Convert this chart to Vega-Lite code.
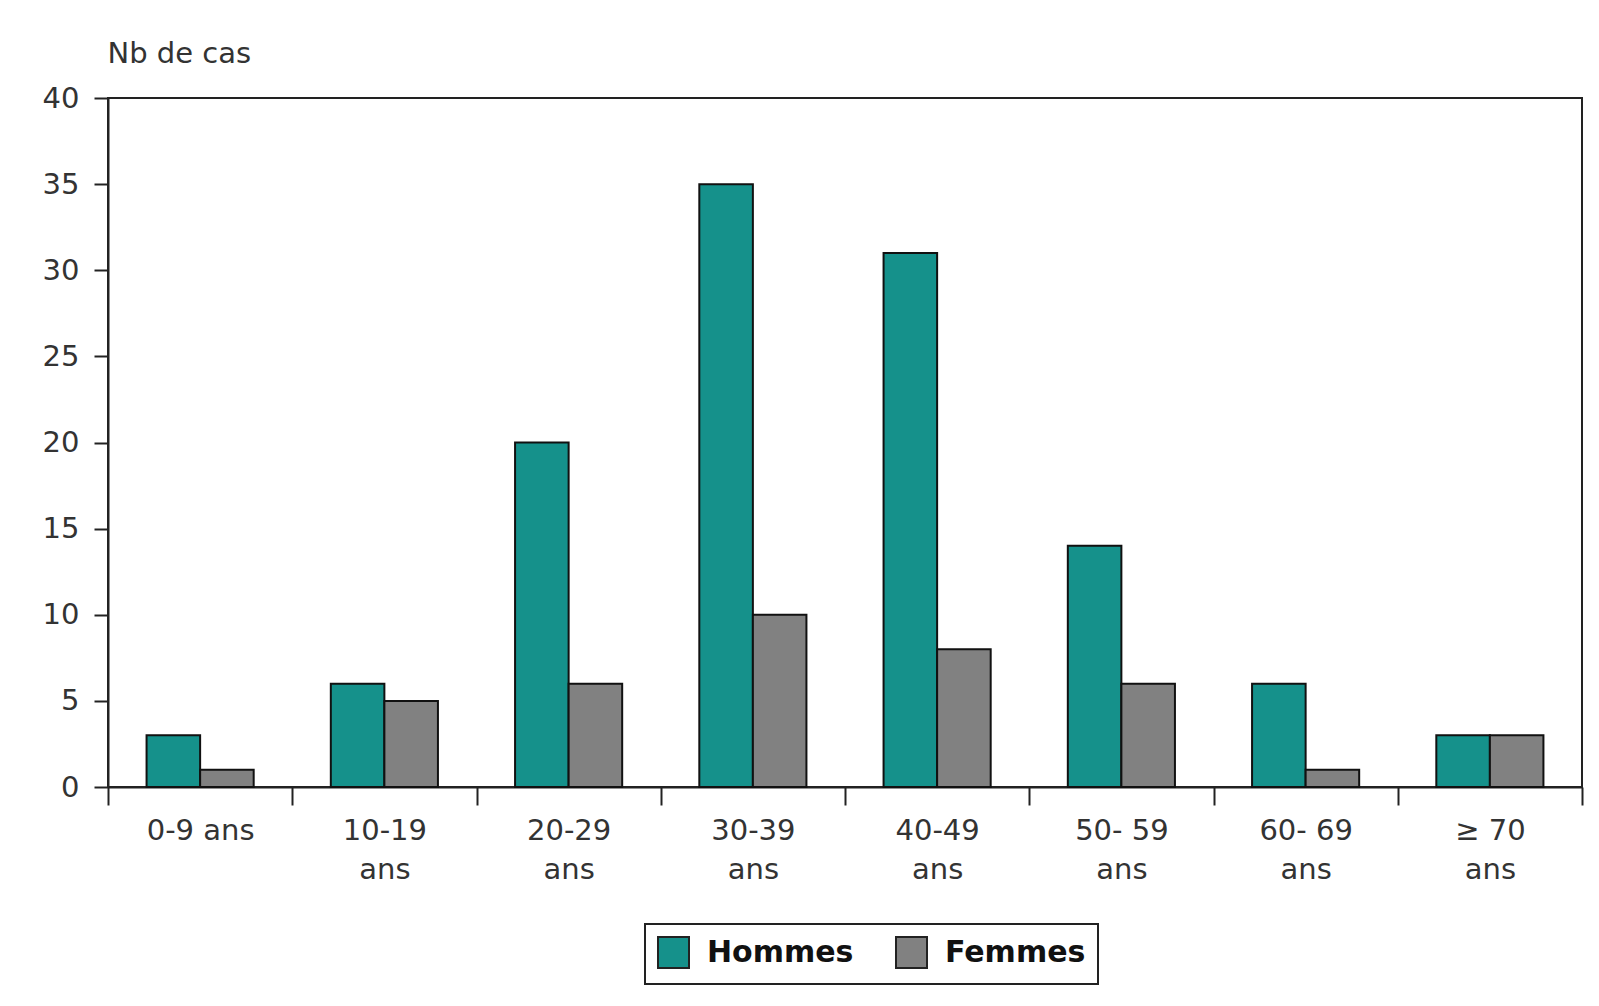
{
  "$schema": "https://vega.github.io/schema/vega-lite/v6.json",
  "width": 1474,
  "height": 689,
  "autosize": {"type": "none"},
  "padding": {"left": 108, "top": 98, "right": 17, "bottom": 219},
  "background": "white",
  "data": {
    "values": [
      {"age": "0-9 ans", "sexe": "Hommes", "cas": 3},
      {"age": "0-9 ans", "sexe": "Femmes", "cas": 1},
      {"age": "10-19 ans", "sexe": "Hommes", "cas": 6},
      {"age": "10-19 ans", "sexe": "Femmes", "cas": 5},
      {"age": "20-29 ans", "sexe": "Hommes", "cas": 20},
      {"age": "20-29 ans", "sexe": "Femmes", "cas": 6},
      {"age": "30-39 ans", "sexe": "Hommes", "cas": 35},
      {"age": "30-39 ans", "sexe": "Femmes", "cas": 10},
      {"age": "40-49 ans", "sexe": "Hommes", "cas": 31},
      {"age": "40-49 ans", "sexe": "Femmes", "cas": 8},
      {"age": "50- 59 ans", "sexe": "Hommes", "cas": 14},
      {"age": "50- 59 ans", "sexe": "Femmes", "cas": 6},
      {"age": "60- 69 ans", "sexe": "Hommes", "cas": 6},
      {"age": "60- 69 ans", "sexe": "Femmes", "cas": 1},
      {"age": "≥ 70 ans", "sexe": "Hommes", "cas": 3},
      {"age": "≥ 70 ans", "sexe": "Femmes", "cas": 3}
    ]
  },
  "mark": {"type": "bar", "stroke": "#111111", "strokeWidth": 2},
  "encoding": {
    "x": {
      "field": "age",
      "type": "nominal",
      "sort": null,
      "scale": {"paddingInner": 0, "paddingOuter": 0},
      "axis": {
        "title": null,
        "labelAngle": 0,
        "tickBand": "extent",
        "tickSize": 18,
        "tickWidth": 2,
        "tickColor": "#222222",
        "domainColor": "#222222",
        "domainWidth": 2,
        "labelPadding": 11,
        "labelFont": "DejaVu Sans",
        "labelFontSize": 29,
        "labelColor": "#333333",
        "labelLineHeight": 39,
        "labelBaseline": "top",
        "labelExpr": "(!datum.label || datum.label === '0-9 ans') ? datum.label : [replace(datum.label, ' ans', ''), 'ans']"
      }
    },
    "xOffset": {
      "field": "sexe",
      "type": "nominal",
      "sort": ["Hommes", "Femmes"],
      "scale": {"paddingInner": 0, "paddingOuter": 0.72}
    },
    "y": {
      "field": "cas",
      "type": "quantitative",
      "scale": {"domain": [0, 40], "nice": false},
      "axis": {
        "title": "Nb de cas",
        "titleAngle": 0,
        "titleAlign": "left",
        "titleBaseline": "alphabetic",
        "titleX": -1,
        "titleY": -36,
        "titleFont": "DejaVu Sans",
        "titleFontSize": 29,
        "titleFontWeight": "normal",
        "titleColor": "#333333",
        "values": [0, 5, 10, 15, 20, 25, 30, 35, 40],
        "grid": false,
        "tickSize": 14,
        "tickWidth": 2,
        "tickColor": "#222222",
        "domainColor": "#222222",
        "domainWidth": 2,
        "labelPadding": 15,
        "labelFont": "DejaVu Sans",
        "labelFontSize": 29,
        "labelColor": "#333333"
      }
    },
    "color": {
      "field": "sexe",
      "type": "nominal",
      "sort": ["Hommes", "Femmes"],
      "scale": {"domain": ["Hommes", "Femmes"], "range": ["#15918b", "#818181"]},
      "legend": {
        "title": null,
        "orient": "none",
        "legendX": 537,
        "legendY": 826,
        "direction": "horizontal",
        "strokeColor": "#222222",
        "padding": 12,
        "symbolType": "square",
        "symbolSize": 961,
        "symbolStrokeColor": "#222222",
        "symbolStrokeWidth": 2,
        "symbolOpacity": 1,
        "labelFont": "DejaVu Sans",
        "labelFontSize": 30,
        "labelFontWeight": "bold",
        "labelColor": "#111111",
        "columnPadding": 38,
        "labelOffset": 17
      }
    }
  },
  "config": {
    "view": {"stroke": "#222222", "strokeWidth": 2},
    "legend": {"strokeWidth": 2}
  }
}
